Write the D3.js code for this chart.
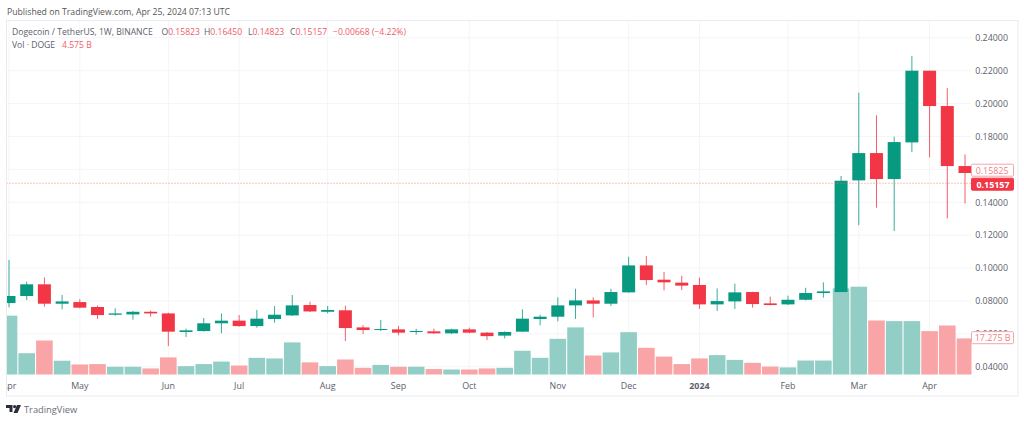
<!DOCTYPE html>
<html>
<head>
<meta charset="utf-8">
<script src="https://cdn.jsdelivr.net/npm/d3@7"></script>
<style>
  html, body { margin: 0; padding: 0; background: #fff; overflow: hidden; }
  text { font-family: "Open Sans", sans-serif; }
</style>
</head>
<body>
<svg id="chart"></svg>
<script>
// Weekly candles
const opens = [.0787,.0830,.0901,.0783,.0793,.0763,.0716,.0718,.0734,.0724,.0611,.0617,.0664,.0680,.0647,.0690,.0712,.0775,.0734,.0743,.0639,.0623,.0627,.0611,.0615,.0603,.0627,.0607,.0589,.0613,.0690,.0704,.0773,.0803,.0783,.0852,.1016,.0929,.0911,.0897,.0779,.0797,.0854,.0785,.0779,.0807,.0848,.0854,.1533,.1699,.1541,.1764,.2200,.1985,.1620];
const closes = [.0830,.0901,.0783,.0797,.0759,.0714,.0724,.0734,.0724,.0613,.0621,.0664,.0680,.0647,.0692,.0716,.0773,.0736,.0745,.0635,.0623,.0629,.0607,.0617,.0603,.0627,.0607,.0586,.0611,.0692,.0704,.0773,.0803,.0783,.0854,.1016,.0927,.0913,.0893,.0779,.0799,.0852,.0781,.0775,.0807,.0848,.0858,.1531,.1699,.1541,.1766,.2200,.1985,.1620,.1578];
const highs = [.1049,.0917,.0943,.0836,.0811,.0771,.0755,.0739,.0741,.0728,.0631,.0696,.0724,.0714,.0745,.0769,.0836,.0795,.0769,.0771,.0653,.0684,.0647,.0631,.0631,.0631,.0637,.0611,.0615,.0749,.0716,.0822,.0874,.0822,.0874,.1069,.1073,.0976,.0953,.0941,.0876,.0905,.0856,.0826,.0832,.0880,.0913,.1560,.2066,.1929,.1798,.2289,.2200,.2094,.1691];
const lows = [.0761,.0805,.0765,.0749,.0755,.0690,.0710,.0686,.0704,.0526,.0580,.0613,.0603,.0643,.0637,.0668,.0708,.0732,.0724,.0556,.0599,.0617,.0591,.0595,.0599,.0599,.0603,.0562,.0572,.0611,.0651,.0676,.0690,.0700,.0769,.0850,.0897,.0864,.0866,.0751,.0739,.0751,.0759,.0773,.0775,.0803,.0820,.0854,.1260,.1367,.1225,.1705,.1673,.1302,.1393];
// Volume in billions of DOGE
const volumes = [28.2,10.2,16.3,6.6,4.8,5.0,3.7,3.7,2.9,8.2,4.0,5.0,6.2,4.3,8.0,7.7,15.4,5.8,4.0,7.2,3.2,4.6,3.7,3.7,2.6,2.4,2.4,2.9,3.2,11.4,8.0,17.1,22.6,9.1,10.6,20.3,12.8,8.6,5.0,7.7,9.3,7.0,5.6,3.8,3.4,6.7,6.7,41.3,42.1,25.9,25.6,25.6,20.8,23.5,17.3];

const monthLabels = ["Apr","May","Jun","Jul","Aug","Sep","Oct","Nov","Dec","2024","Feb","Mar","Apr"];
const monthWeeks = [0,4,9,13,18,22,26,31,35,39,44,48,52];
const priceTicks = [0.04,0.06,0.08,0.10,0.12,0.14,0.16,0.18,0.20,0.22,0.24];

const lastOpenLabel = 0.15825;
const lastCloseLabel = 0.15157;
const lastVolumeLabel = "17.275 B";

const legendTitle = "Dogecoin / TetherUS, 1W, BINANCE";
const legendValues = [
  ["O", "0.15823", 161.5], ["H", "0.16450", 204], ["L", "0.14823", 248], ["C", "0.15157", 290]
];

const width = 1024;
const height = 422;
const frame = { left: 6.5, right: 1018, top: 20.5, bottom: 396 };
const plotRight = 971;
const plotBottom = 377;
const axisFont = 8.9;
const legendFont = 8.6;

const green = "#089981";
const red = "#f23645";
const greenVol = "#93cec6";
const redVol = "#f9a4a6";
const gridColor = "#f4f5f7";
const textColor = "#5d606b";

const svg = d3.select("#chart")
  .attr("width", width)
  .attr("height", height)
  .style("display", "block");

const x = d3.scaleLinear().domain([0, opens.length - 1]).range([9, 965]);
const y = d3.scaleLinear().domain([0.04, 0.22]).range([366.7, 70.7]);
const yVol = d3.scaleLinear().domain([0, d3.max(volumes)]).range([374.5, 286.7]);

// Everything in the pane is clipped at the frame, this is what cuts "Apr" to "pr"
svg.append("defs").append("clipPath")
  .attr("id", "pane")
  .append("rect")
  .attr("x", frame.left + 0.5)
  .attr("y", frame.top)
  .attr("width", plotRight - frame.left)
  .attr("height", frame.bottom - frame.top);

const pane = svg.append("g").attr("clip-path", "url(#pane)");

// Grid
pane.append("g")
  .selectAll("line")
  .data(monthWeeks)
  .join("line")
  .attr("x1", d => x(d)).attr("x2", d => x(d))
  .attr("y1", frame.top).attr("y2", plotBottom)
  .attr("stroke", gridColor);

pane.append("g")
  .selectAll("line")
  .data(priceTicks)
  .join("line")
  .attr("x1", frame.left).attr("x2", plotRight)
  .attr("y1", d => y(d)).attr("y2", d => y(d))
  .attr("stroke", gridColor);

const weeks = d3.range(opens.length);

// Volume bars sit behind the candles
const volWidth = 16.6;
pane.append("g")
  .selectAll("rect")
  .data(weeks)
  .join("rect")
  .attr("x", i => x(i) - volWidth / 2)
  .attr("y", i => yVol(volumes[i]))
  .attr("width", volWidth)
  .attr("height", i => yVol(0) - yVol(volumes[i]))
  .attr("fill", i => closes[i] >= opens[i] ? greenVol : redVol);

// Candles
const bodyWidth = 13;
const candle = pane.append("g")
  .selectAll("g")
  .data(weeks)
  .join("g");

candle.append("line")
  .attr("x1", i => x(i)).attr("x2", i => x(i))
  .attr("y1", i => y(highs[i])).attr("y2", i => y(lows[i]))
  .attr("stroke", i => closes[i] >= opens[i] ? green : red)
  .attr("stroke-opacity", 0.8)
  .attr("stroke-width", 1);

candle.append("rect")
  .attr("x", i => x(i) - bodyWidth / 2)
  .attr("y", i => y(Math.max(opens[i], closes[i])))
  .attr("width", bodyWidth)
  .attr("height", i => Math.abs(y(opens[i]) - y(closes[i])))
  .attr("fill", i => closes[i] >= opens[i] ? green : red);

// Dotted last price line
pane.append("line")
  .attr("x1", frame.left).attr("x2", plotRight)
  .attr("y1", y(lastCloseLabel)).attr("y2", y(lastCloseLabel))
  .attr("stroke", "#f0705a")
  .attr("stroke-opacity", 0.8)
  .attr("stroke-dasharray", "1 2");

// Time axis
pane.append("g")
  .selectAll("text")
  .data(monthWeeks)
  .join("text")
  .attr("x", d => x(d))
  .attr("y", 388.6)
  .attr("text-anchor", "middle")
  .attr("font-size", axisFont)
  .attr("font-weight", (d, i) => monthLabels[i] === "2024" ? 700 : 400)
  .attr("fill", textColor)
  .text((d, i) => monthLabels[i]);

// Price axis
svg.append("g")
  .selectAll("text")
  .data(priceTicks)
  .join("text")
  .attr("x", 1008)
  .attr("y", d => y(d) + 3.3)
  .attr("text-anchor", "end")
  .attr("font-size", axisFont)
  .attr("fill", textColor)
  .text(d => d3.format(".5f")(d));

// Frame
svg.append("rect")
  .attr("x", frame.left)
  .attr("y", frame.top)
  .attr("width", frame.right - frame.left)
  .attr("height", frame.bottom - frame.top)
  .attr("fill", "none")
  .attr("stroke", "#e9ebee");

// Price axis labels for the last bar
function axisLabel(cy, label, textRight, fill, stroke, color, weight) {
  svg.append("rect")
    .attr("x", 971.5).attr("y", cy - 6)
    .attr("width", 42).attr("height", 12)
    .attr("rx", 1)
    .attr("fill", fill)
    .attr("stroke", stroke);
  svg.append("text")
    .attr("x", textRight)
    .attr("y", cy + 3.3)
    .attr("text-anchor", "end")
    .attr("font-size", axisFont)
    .attr("font-weight", weight)
    .attr("fill", color)
    .text(label);
}
axisLabel(170.2, d3.format(".5f")(lastOpenLabel), 1008.5, "#fff", "#f6a5aa", "#ef7f86", 400);
axisLabel(184.2, d3.format(".5f")(lastCloseLabel), 1009.5, red, red, "#fff", 700);
axisLabel(337.7, lastVolumeLabel, 1010.5, "#fff", "#f6a5aa", "#ef7f86", 400);

// Header and legend
svg.append("text")
  .attr("x", 7).attr("y", 14.5)
  .attr("font-size", legendFont + 0.1)
  .attr("fill", "#555")
  .text("Published on TradingView.com, Apr 25, 2024 07:13 UTC");

const legendRed = "#ef5d68";
svg.append("text")
  .attr("x", 12).attr("y", 35)
  .attr("font-size", legendFont)
  .attr("fill", textColor)
  .text(legendTitle);

legendValues.forEach(([key, value, left]) => {
  const t = svg.append("text").attr("x", left).attr("y", 35).attr("font-size", legendFont);
  t.append("tspan").attr("fill", textColor).text(key);
  t.append("tspan").attr("fill", legendRed).text(value);
});

svg.append("text")
  .attr("x", 333).attr("y", 35)
  .attr("font-size", legendFont)
  .attr("fill", legendRed)
  .text("\u22120.00668 (\u22124.22%)");

svg.append("text")
  .attr("x", 12).attr("y", 48)
  .attr("font-size", legendFont)
  .attr("fill", textColor)
  .text("Vol \u00b7 DOGE");

svg.append("text")
  .attr("x", 62).attr("y", 48)
  .attr("font-size", legendFont)
  .attr("fill", legendRed)
  .text("4.575 B");

// Footer logo and name
const logo = svg.append("g").attr("transform", "translate(6,405)").attr("fill", "#2a2e39");
logo.append("path").attr("d", "M0 0H6.5V7H3.5V3H0Z");
logo.append("circle").attr("cx", 8.6).attr("cy", 1.6).attr("r", 1.6);
logo.append("path").attr("d", "M11 0H15L11.5 8H7.5Z");

svg.append("text")
  .attr("x", 24).attr("y", 413)
  .attr("font-size", 9.3)
  .attr("fill", "#6a6d78")
  .text("TradingView");
</script>
</body>
</html>
